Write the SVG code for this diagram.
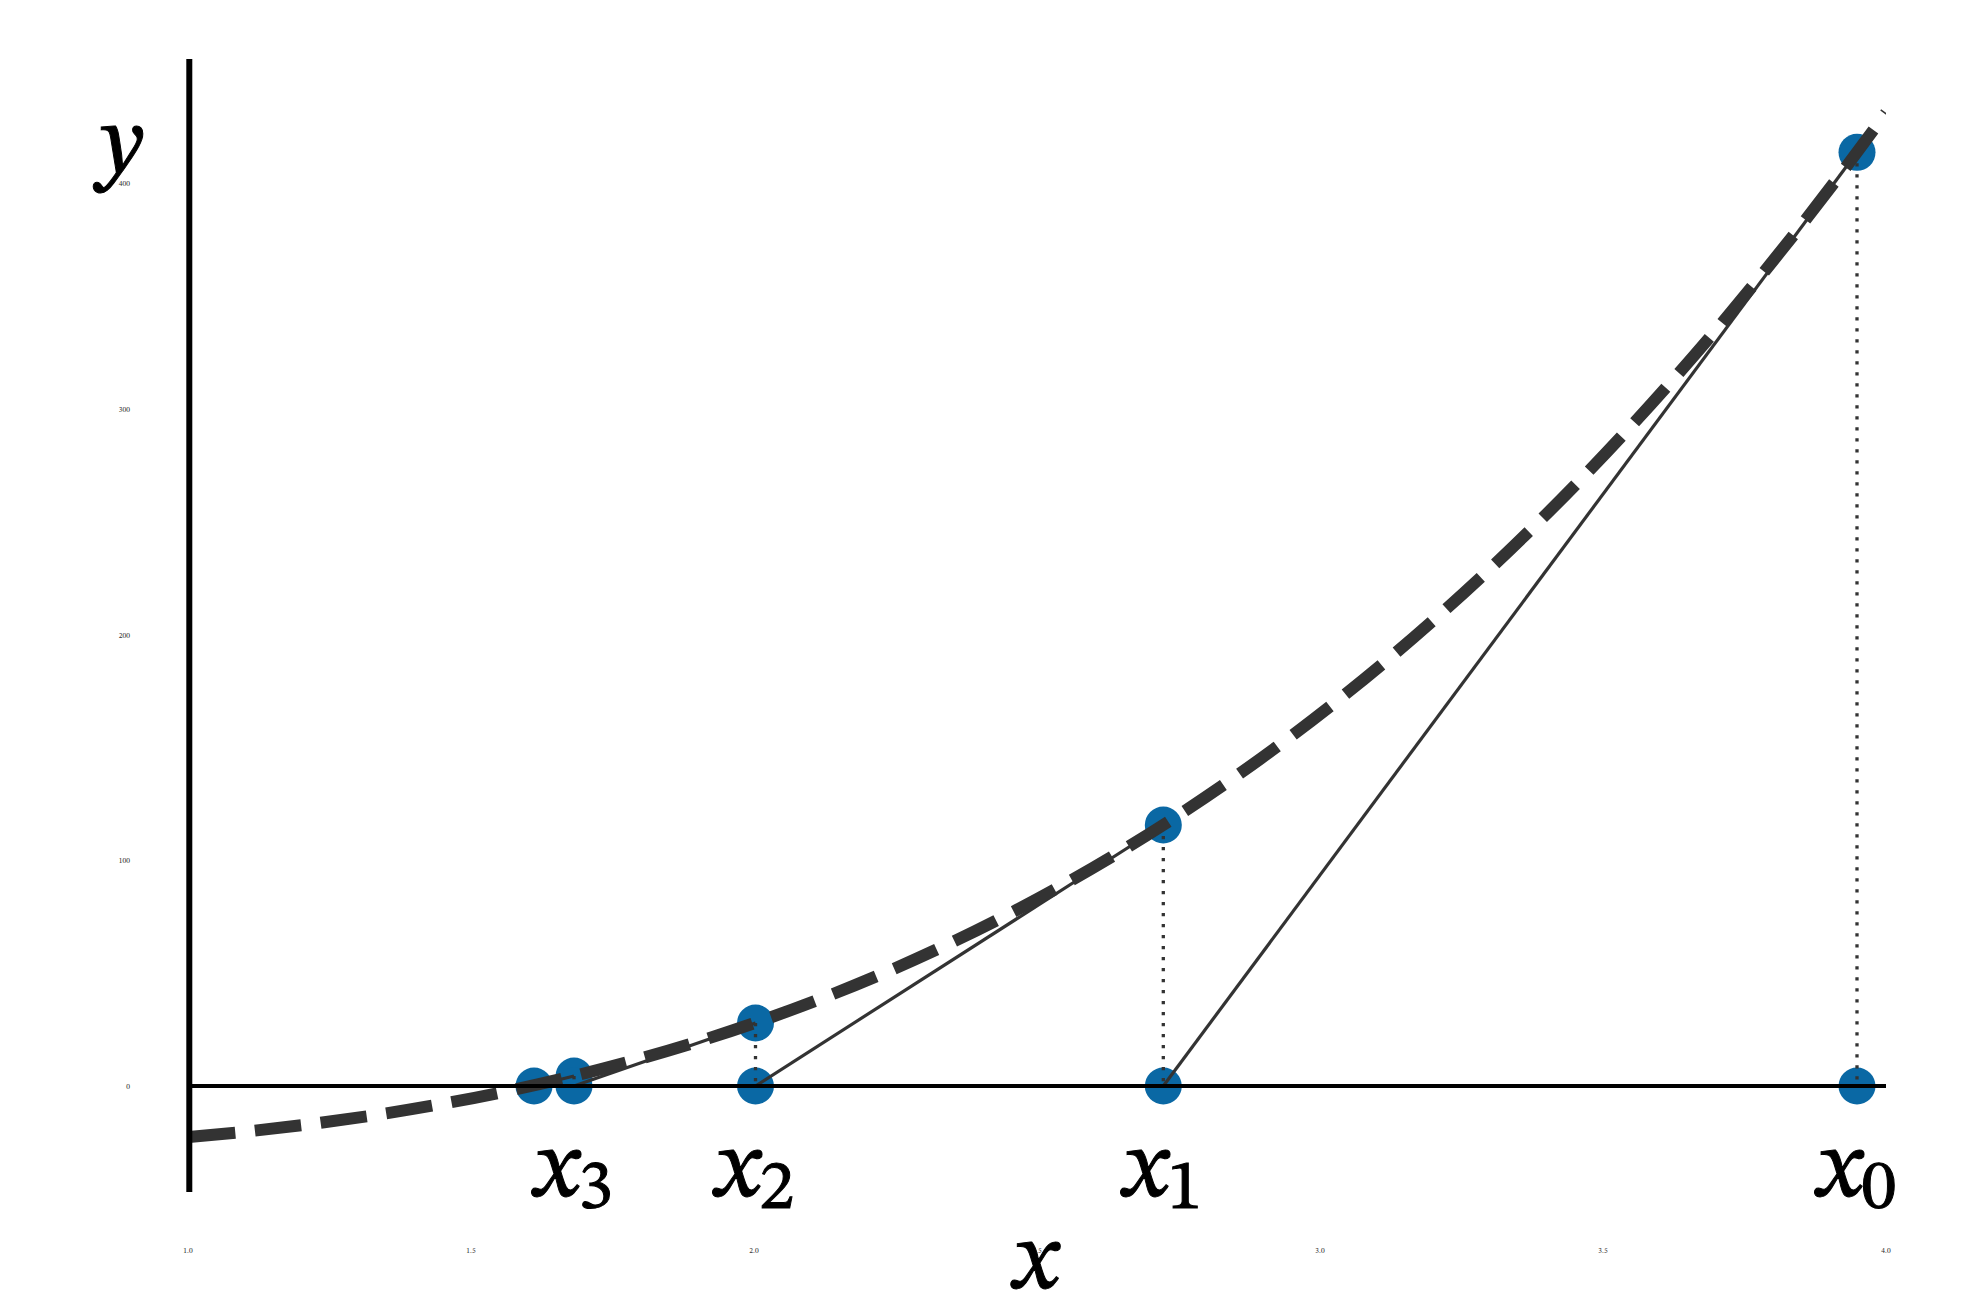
<svg xmlns="http://www.w3.org/2000/svg" width="1980" height="1314" viewBox="0 0 1980 1314">
<defs>
<clipPath id="plotclip"><rect x="0" y="0" width="1886" height="1314"/></clipPath>
</defs>
<style>
text{font-family:'STIX Two Text','Liberation Serif','Times New Roman',serif}
.tick{font-size:7.5px;fill:#333}
.lab{font-size:96px;fill:#000;stroke:#000;stroke-width:1}
.it{font-style:italic}
.sub{font-size:70px;font-style:normal}
.dot{fill:#0a68a4}
.tan{stroke:#333;stroke-width:3.2;fill:none}
.vdot{stroke:#333;stroke-width:3.3;stroke-dasharray:3.3 7.7;fill:none}
</style>
<rect width="1980" height="1314" fill="#fff"/>
<g id="points">
<circle class="dot" cx="1857" cy="152.3" r="18.5"/>
<circle class="dot" cx="1857" cy="1086" r="18.5"/>
<circle class="dot" cx="1163.3" cy="825" r="18.5"/>
<circle class="dot" cx="1163.3" cy="1086" r="18.5"/>
<circle class="dot" cx="755.5" cy="1023" r="18.5"/>
<circle class="dot" cx="755.5" cy="1086" r="18.5"/>
<circle class="dot" cx="574" cy="1076" r="18.5"/>
<circle class="dot" cx="574" cy="1086" r="18.5"/>
<circle class="dot" cx="534" cy="1086" r="18.5"/>
</g>
<g id="connectors">
<line class="tan" x1="1857" y1="152.3" x2="1163.3" y2="1086"/>
<line class="tan" x1="1163.3" y1="825" x2="755.5" y2="1086"/>
<line class="tan" x1="755.5" y1="1023" x2="574" y2="1086"/>
<line class="tan" x1="574" y1="1076" x2="534" y2="1086"/>
<line class="vdot" x1="1857" y1="152.3" x2="1857" y2="1086"/>
<line class="vdot" x1="1163.3" y1="825" x2="1163.3" y2="1086"/>
<line class="vdot" x1="755.5" y1="1023" x2="755.5" y2="1086"/>
<line class="vdot" x1="574" y1="1076" x2="574" y2="1086"/>
</g>
<g id="curve" clip-path="url(#plotclip)">
<path d="M189,1137 C754.67,1088.2 1320.33,892.35 1886,112.8" pathLength="2053.7" fill="none" stroke="#333" stroke-width="12" stroke-dasharray="46.5 19.7"/>
</g>
<g id="axes">
<line x1="189" y1="1086" x2="1886" y2="1086" stroke="#000" stroke-width="4"/>
<line x1="189.3" y1="59" x2="189.3" y2="1192" stroke="#000" stroke-width="6"/>
</g>
<g id="ticks">
<text class="tick" x="130" y="1088.5" text-anchor="end">0</text>
<text class="tick" x="130" y="862.5" text-anchor="end">100</text>
<text class="tick" x="130" y="637.5" text-anchor="end">200</text>
<text class="tick" x="130" y="411.5" text-anchor="end">300</text>
<text class="tick" x="130" y="185.5" text-anchor="end">400</text>
<text class="tick" x="188" y="1253" text-anchor="middle">1.0</text>
<text class="tick" x="471" y="1253" text-anchor="middle">1.5</text>
<text class="tick" x="754" y="1253" text-anchor="middle">2.0</text>
<text class="tick" x="1037" y="1253" text-anchor="middle">2.5</text>
<text class="tick" x="1320" y="1253" text-anchor="middle">3.0</text>
<text class="tick" x="1603" y="1253" text-anchor="middle">3.5</text>
<text class="tick" x="1886" y="1253" text-anchor="middle">4.0</text>
</g>
<g id="labels">
<text class="lab it" x="1036" y="1288" text-anchor="middle">x</text>
<text class="lab it" x="122" y="172" text-anchor="middle">y</text>
<text class="lab" x="1857" y="1196" text-anchor="middle"><tspan class="it">x</tspan><tspan class="sub" dy="12">0</tspan></text>
<text class="lab" x="1163" y="1196" text-anchor="middle"><tspan class="it">x</tspan><tspan class="sub" dy="12">1</tspan></text>
<text class="lab" x="755" y="1196" text-anchor="middle"><tspan class="it">x</tspan><tspan class="sub" dy="12">2</tspan></text>
<text class="lab" x="574" y="1196" text-anchor="middle"><tspan class="it">x</tspan><tspan class="sub" dy="12">3</tspan></text>
</g>
</svg>
